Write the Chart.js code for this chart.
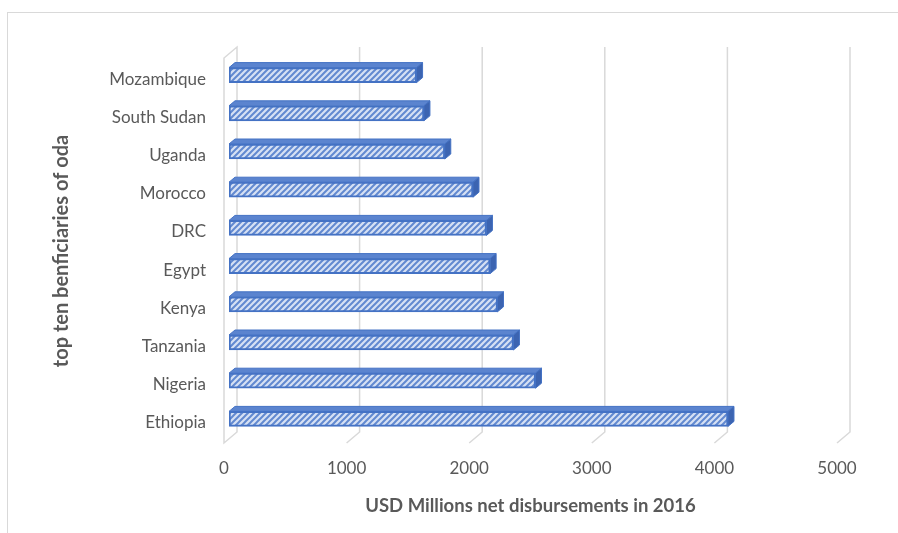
<!DOCTYPE html>
<html>
<head>
<meta charset="utf-8">
<script src="https://cdn.jsdelivr.net/npm/chart.js@4"></script>
<style>
    html, body { margin: 0; padding: 0; background: #fff; overflow: hidden; }
    #wrap { position: relative; width: 898px; height: 533px; }
    #frame {
        position: absolute; left: 7px; top: 12px;
        width: 920px; height: 560px;
        border: 1px solid #d9d9d9;
    }
    #chart { position: absolute; left: 0; top: 0; }
</style>
</head>
<body>
<div id="wrap">
    <div id="frame"></div>
    <canvas id="chart" width="898" height="533"></canvas>
</div>
<script>
// ODA received, top ten African recipients (USD millions, 2016)
const countries = ['Ethiopia', 'Nigeria', 'Tanzania', 'Kenya', 'Egypt',
                   'DRC', 'Morocco', 'Uganda', 'South Sudan', 'Mozambique'];
const disbursements = [4070, 2500, 2320, 2190, 2130, 2100, 1990, 1760, 1590, 1530];
const xTicks = [0, 1000, 2000, 3000, 4000, 5000];

const GRID = '#d9d9d9';
const TEXT = '#595959';
const BLUE = '#4472c4';

// depth offsets for the fake 3D look
const BACK = { dx: 13, dy: -11 };   // back wall relative to floor front
const BAR = { dx: 5, dy: -4 };      // bar front face relative to floor front
const BAR_DEPTH = { dx: 6, dy: -5 };

// upward diagonal hatch
function makeHatch() {
    const c = document.createElement('canvas');
    c.width = 6; c.height = 6;
    const g = c.getContext('2d');
    g.fillStyle = '#d6e1f4';
    g.fillRect(0, 0, 6, 6);
    g.strokeStyle = '#6289d0';
    g.lineWidth = 2;
    g.beginPath();
    g.moveTo(-1, 7); g.lineTo(7, -1);
    g.moveTo(-4, 4); g.lineTo(4, -4);
    g.moveTo(2, 10); g.lineTo(10, 2);
    g.stroke();
    return g.createPattern(c, 'repeat');
}

const ctx = document.getElementById('chart').getContext('2d');
const hatch = makeHatch();

const walls3d = {
    id: 'walls3d',
    beforeDatasetsDraw(chart) {
        const { ctx, chartArea } = chart;
        const xs = chart.scales.x;
        const frontBottom = chartArea.bottom + 1;
        const backTop = chartArea.top - 13;
        const backBottom = frontBottom + BACK.dy;
        ctx.save();
        ctx.strokeStyle = GRID;
        ctx.lineWidth = 1.5;

        // left wall
        const x0 = xs.getPixelForValue(0);
        ctx.beginPath();
        ctx.moveTo(x0, frontBottom);
        ctx.lineTo(x0, backTop - BACK.dy);
        ctx.lineTo(x0 + BACK.dx, backTop);
        ctx.lineTo(x0 + BACK.dx, backBottom);
        ctx.closePath();
        ctx.stroke();

        // gridlines on the back wall plus their floor ticks
        xTicks.forEach(v => {
            if (v === 0) return;
            const xf = xs.getPixelForValue(v);
            const xb = xf + BACK.dx;
            ctx.beginPath();
            ctx.moveTo(xb, backTop);
            ctx.lineTo(xb, backBottom);
            ctx.lineTo(xf, frontBottom);
            ctx.stroke();
        });
        ctx.restore();

        ctx.save();
        ctx.translate(BAR.dx, BAR.dy);
    },
    afterDatasetsDraw(chart) {
        const { ctx } = chart;
        const meta = chart.getDatasetMeta(0);
        meta.data.forEach(bar => {
            const { x, y, base, height } = bar.getProps(['x', 'y', 'base', 'height'], true);
            const top = y - height / 2;
            const bottom = y + height / 2;
            const dx = BAR_DEPTH.dx, dy = BAR_DEPTH.dy;

            // top face
            ctx.beginPath();
            ctx.moveTo(base, top);
            ctx.lineTo(base + dx, top + dy);
            ctx.lineTo(x + dx, top + dy);
            ctx.lineTo(x, top);
            ctx.closePath();
            ctx.fillStyle = '#5b84cf';
            ctx.fill();
            ctx.strokeStyle = BLUE;
            ctx.lineWidth = 1;
            ctx.stroke();

            // end face
            ctx.beginPath();
            ctx.moveTo(x, top);
            ctx.lineTo(x + dx, top + dy);
            ctx.lineTo(x + dx, bottom + dy);
            ctx.lineTo(x, bottom);
            ctx.closePath();
            ctx.fillStyle = '#3c64b1';
            ctx.fill();
            ctx.stroke();
        });
        ctx.restore();
    }
};

new Chart(ctx, {
    type: 'bar',
    data: {
        labels: countries,
        datasets: [{
            data: disbursements,
            backgroundColor: hatch,
            borderColor: BLUE,
            borderWidth: 2,
            borderSkipped: false,
            barThickness: 15
        }]
    },
    options: {
        indexAxis: 'y',
        responsive: false,
        animation: false,
        events: [],
        layout: { padding: { left: 46, top: 60, right: 61, bottom: 12 } },
        plugins: {
            legend: { display: false },
            tooltip: { enabled: false }
        },
        scales: {
            x: {
                min: 0,
                max: 5000,
                afterBuildTicks: axis => { axis.ticks = xTicks.map(v => ({ value: v })); },
                afterFit: axis => { axis.height = 79; },
                grid: { display: false, drawTicks: false },
                border: { display: false },
                ticks: {
                    padding: 16,
                    color: TEXT,
                    font: { family: 'Lato', size: 17 },
                    callback: v => String(v)
                },
                title: {
                    display: true,
                    text: 'USD Millions net disbursements in 2016',
                    color: TEXT,
                    font: { family: 'Lato', size: 18.5, weight: 'bold' }
                }
            },
            y: {
                reverse: true,
                afterFit: axis => { axis.width = 178; },
                grid: { display: false, drawTicks: false },
                border: { display: false },
                ticks: {
                    padding: 18,
                    color: TEXT,
                    font: { family: 'Lato', size: 17 }
                },
                title: {
                    display: true,
                    text: 'top ten benficiaries of oda',
                    color: TEXT,
                    font: { family: 'Lato', size: 20, weight: 'bold' }
                }
            }
        }
    },
    plugins: [walls3d]
});
</script>
</body>
</html>
